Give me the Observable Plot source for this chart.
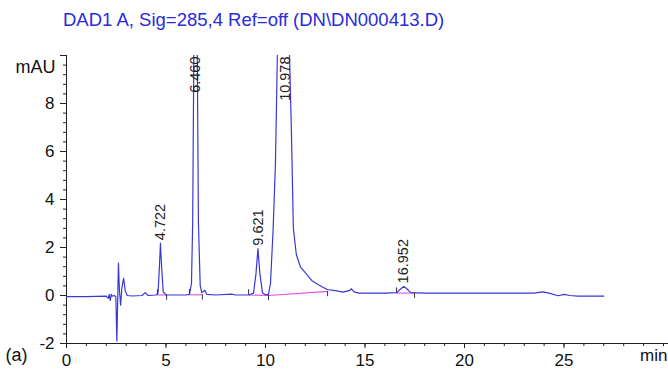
<!DOCTYPE html>
<html><head><meta charset="utf-8">
<script src="https://cdn.jsdelivr.net/npm/d3@7"></script>
<script src="https://cdn.jsdelivr.net/npm/@observablehq/plot@0.6"></script>
<style>
body{margin:0;background:#fff;font-family:"Liberation Sans",Arial,sans-serif;}
#title{height:40px;position:relative;}
#title span{position:absolute;left:63px;top:9px;font-size:18.5px;color:#2a2ae0;white-space:nowrap;}
</style></head><body>
<div id="title"><span>DAD1 A, Sig=285,4 Ref=off (DN\DN000413.D)</span></div>
<div id="chart"></div>
<script>
// Chromatogram trace (min, mAU)
const time = [0.0, 1.0, 2.0, 2.1, 2.15, 2.2, 2.25, 2.3, 2.4, 2.48, 2.53, 2.57, 2.61, 2.66, 2.72, 2.78, 2.87, 2.95, 3.05, 3.3, 3.8, 3.95, 4.1,
  4.5, 4.6, 4.67, 4.72, 4.78, 4.86, 5.0, 6.0, 6.18, 6.28, 6.34, 6.40, 6.47, 6.57, 6.63, 6.72, 6.8, 6.95, 7.05, 7.5, 8.3, 8.5,
  9.15, 9.4, 9.52, 9.62, 9.72, 9.85, 10.0, 10.15, 10.25, 10.38, 10.5, 10.6, 10.8, 11.1, 11.2, 11.3, 11.4, 11.55, 11.76, 12.0,
  12.35, 12.66, 13.1, 13.5, 13.9, 14.2, 14.32, 14.45, 14.7, 16.0, 16.6, 16.8, 16.95, 17.1, 17.3, 18.0, 20.0, 23.5, 23.9, 24.2,
  24.7, 25.0, 25.3, 25.7, 27.0];
const signal = [-0.05, -0.05, -0.03, -0.12, 0.05, -0.2, 0.05, -0.03, 0.0, -0.05, -1.9, -0.3, 1.35, 0.2, -0.4, 0.3, 0.72, 0.2, 0.0, -0.02, 0.0, 0.12, 0.0,
  0.02, 0.1, 1.2, 2.18, 1.2, 0.15, 0.03, 0.02, 0.05, 0.5, 3.0, 10.2, 11.0, 10.2, 3.0, 0.4, 0.12, 0.22, 0.05, 0.02, 0.06, 0.02,
  0.02, 0.1, 0.9, 1.95, 0.9, 0.1, 0.03, 0.05, 0.5, 2.7, 5.5, 10.2, 11.0, 11.0, 10.2, 6.9, 2.8, 1.7, 1.18, 0.95,
  0.6, 0.45, 0.25, 0.2, 0.14, 0.2, 0.28, 0.15, 0.1, 0.1, 0.12, 0.28, 0.38, 0.28, 0.12, 0.1, 0.1, 0.1, 0.15, 0.11,
  -0.01, 0.05, 0.0, -0.03, -0.03];

// Integrated peaks
const peakRT = [4.722, 6.460, 9.621, 10.978, 16.952];
const peakHeight = [2.18, 11.0, 1.95, 11.0, 0.38];
const peakStart = [4.57, 6.18, 9.15, 10.15, 16.58];
const peakEnd = [5.03, 6.83, 10.15, 13.12, 17.49];
const baseStart = [0.02, 0.03, 0.02, 0.0, 0.1];
const baseEnd = [0.02, 0.03, 0.0, 0.17, 0.1];

// Axis ticks
const xMajor = [0, 5, 10, 15, 20, 25];
const xMinor = d3.range(0, 31, 1);
const yMajor = [-2, 0, 2, 4, 6, 8, 10];
const yMinor = d3.range(-2, 10.01, 0.4).map(d => +d.toFixed(1));

const trace = time.map((t, i) => ({t, v: signal[i]}));
const peaks = peakRT.map((rt, i) => ({rt, h: peakHeight[i], s: peakStart[i], e: peakEnd[i], bs: baseStart[i], be: baseEnd[i]}));
const startTicks = peaks.filter((p, i) => i === 0 || p.s !== peaks[i - 1].e);

const yTop = 10, yBot = -2;
const blue = "#3838da", magenta = "#e850e8";

const chart = Plot.plot({
  width: 668, height: 332,
  marginLeft: 66, marginRight: 5, marginTop: 15, marginBottom: 29,
  style: {fontFamily: "'Liberation Sans', Arial, sans-serif", background: "#fff", color: "#111"},
  x: {domain: [0, 30]},
  y: {domain: [yBot, yTop]},
  marks: [
    Plot.axisX(xMinor, {tickSize: 3, tickFormat: () => "", stroke: "#222"}),
    Plot.axisX(xMajor, {tickSize: 5, tickPadding: 5, fontSize: 17, tickFormat: d => String(d), stroke: "#222", fill: "#111"}),
    Plot.axisY(yMinor, {tickSize: 3, tickFormat: () => "", stroke: "#222"}),
    Plot.axisY(yMajor.filter(d => d !== yTop), {tickSize: 6, tickPadding: 6, fontSize: 17, tickFormat: d => String(d), stroke: "#222", fill: "#111"}),
    Plot.axisY([yTop], {tickSize: 6, tickFormat: () => "", stroke: "#222"}),
    Plot.ruleY([yBot], {x1: 0, x2: 30.3, stroke: "#222", clip: false}),
    Plot.ruleX([0], {stroke: "#222"}),
    Plot.text(["mAU"], {frameAnchor: "top-left", dx: -11, dy: 5, textAnchor: "end", fontSize: 18, fill: "#111"}),
    Plot.text(["min"], {frameAnchor: "bottom-right", dx: 4, dy: 17, textAnchor: "end", fontSize: 17, fill: "#111"}),
    Plot.text(["(a)"], {frameAnchor: "bottom-left", dx: -61, dy: 17, textAnchor: "start", fontSize: 18, fill: "#111"}),
    Plot.link(peaks, {x1: "s", y1: "bs", x2: "e", y2: "be", stroke: magenta, strokeWidth: 1.1}),
    Plot.line(trace, {x: "t", y: "v", stroke: blue, strokeWidth: 1.2, clip: true}),
    Plot.ruleX(startTicks, {x: "s", y1: "bs", y2: d => d.bs + 0.22, stroke: "#333", strokeWidth: 1}),
    Plot.ruleX(peaks, {x: "e", y1: "be", y2: d => d.be - 0.22, stroke: "#333", strokeWidth: 1}),
    Plot.text(peaks.filter(p => p.h <= yTop), {x: "rt", y: "h", text: d => d.rt.toFixed(3), rotate: -90, textAnchor: "start", dy: -3, fontSize: 14.5, fill: "#222"}),
    Plot.text(peaks.filter(p => p.h > yTop), {x: "rt", y: yTop, text: d => d.rt.toFixed(3), rotate: -90, textAnchor: "end", dy: 1, fontSize: 14.5, fill: "#222"})
  ]
});
document.getElementById("chart").appendChild(chart);
</script>
</body></html>
